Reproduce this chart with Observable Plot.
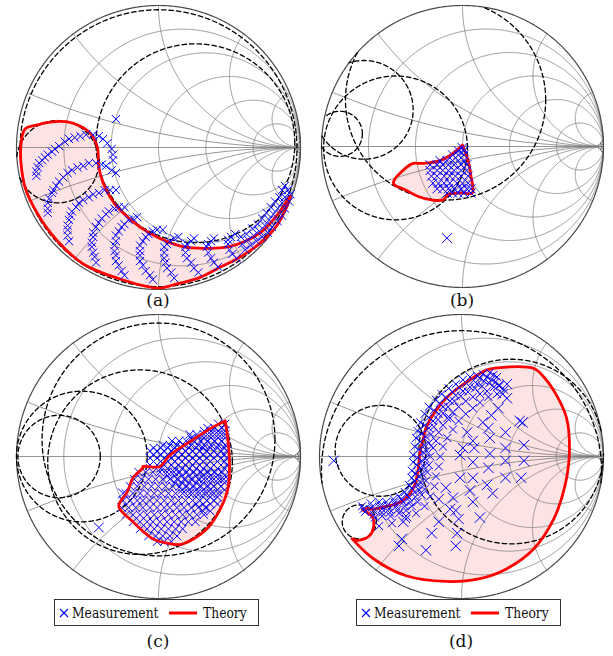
<!DOCTYPE html>
<html><head><meta charset="utf-8">
<script src="https://cdn.jsdelivr.net/npm/d3@7"></script>
<script src="https://cdn.jsdelivr.net/npm/@observablehq/plot@0.6"></script>
<style>
body{margin:0;background:#fff;}
#wrap{position:relative;width:613px;height:656px;color:#111;}
#wrap, .lab, .legend, .legend span{font-family:"DejaVu Serif",serif;}
.panel{position:absolute;}
.lab{position:absolute;font-size:17px;transform:translate(-50%,-50%);white-space:nowrap;}
.legend{position:absolute;border:1px solid #333;height:27px;width:205px;box-sizing:border-box;background:#fff;font-size:14px;}
.legend > *{position:absolute;top:50%;transform:translateY(-50%);white-space:nowrap;}
.legend > span{transform:translateY(-50%) scaleX(0.88);transform-origin:0 50%;}
</style></head><body>
<div id="wrap"></div>
<script>
// ---- Smith chart grid values ----
const gridResistance = [0.2, 0.5, 1, 2, 5, 50];
const gridReactance = [0.2, 0.5, 1, 2, 5, 50];

// ---- (a) ----
const aTheory = [[-0.97,0],[-0.94,0.13],[-0.85,0.16],[-0.75,0.18],[-0.64,0.18],[-0.55,0.15],[-0.48,0.10],[-0.43,0],[-0.42,-0.14],[-0.39,-0.25],[-0.34,-0.35],[-0.27,-0.44],[-0.13,-0.56],[0.01,-0.64],[0.18,-0.70],[0.35,-0.71],[0.49,-0.70],[0.61,-0.66],[0.73,-0.59],[0.84,-0.47],[0.93,-0.34],[0.84,-0.54],[0.72,-0.67],[0.56,-0.78],[0.42,-0.85],[0.28,-0.92],[0.13,-0.96],[0,-0.99],[-0.29,-0.92],[-0.53,-0.82],[-0.71,-0.66],[-0.85,-0.47],[-0.94,-0.28],[-0.97,-0.09]];
const aMeas = [
[-0.86,-0.20],[-0.86,-0.17],[-0.85,-0.14],[-0.84,-0.11],[-0.82,-0.09],[-0.80,-0.07],[-0.78,-0.05],[-0.75,-0.03],[-0.73,-0.01],[-0.70,0.01],[-0.66,0.04],[-0.63,0.06],[-0.59,0.07],[-0.55,0.08],[-0.51,0.09],[-0.46,0.09],[-0.42,0.08],[-0.39,0.06],[-0.36,0.03],[-0.33,-0.01],[-0.32,-0.05],[-0.32,-0.09],
[-0.78,-0.46],[-0.78,-0.43],[-0.78,-0.39],[-0.77,-0.36],[-0.75,-0.32],[-0.74,-0.30],[-0.72,-0.27],[-0.70,-0.24],[-0.67,-0.21],[-0.64,-0.18],[-0.61,-0.16],[-0.57,-0.14],[-0.53,-0.13],[-0.49,-0.11],[-0.44,-0.11],[-0.40,-0.12],[-0.37,-0.13],[-0.33,-0.16],[-0.30,-0.18],
[-0.63,-0.66],[-0.64,-0.62],[-0.64,-0.58],[-0.64,-0.55],[-0.63,-0.51],[-0.62,-0.48],[-0.61,-0.45],[-0.58,-0.42],[-0.56,-0.39],[-0.53,-0.37],[-0.49,-0.35],[-0.46,-0.33],[-0.42,-0.32],[-0.38,-0.30],[-0.34,-0.30],[-0.30,-0.30],
[-0.44,-0.81],[-0.45,-0.77],[-0.46,-0.74],[-0.47,-0.70],[-0.47,-0.67],[-0.46,-0.63],[-0.46,-0.60],[-0.44,-0.56],[-0.42,-0.53],[-0.40,-0.50],[-0.37,-0.47],[-0.35,-0.45],[-0.31,-0.43],[-0.28,-0.42],[-0.24,-0.42],
[-0.24,-0.90],[-0.26,-0.87],[-0.28,-0.83],[-0.30,-0.80],[-0.30,-0.76],[-0.31,-0.73],[-0.31,-0.69],[-0.30,-0.66],[-0.30,-0.62],[-0.28,-0.59],[-0.26,-0.56],[-0.24,-0.54],[-0.21,-0.51],[-0.18,-0.50],[-0.15,-0.49],
[-0.04,-0.93],[-0.06,-0.90],[-0.09,-0.87],[-0.11,-0.83],[-0.13,-0.80],[-0.13,-0.76],[-0.13,-0.73],[-0.13,-0.69],[-0.11,-0.66],[-0.09,-0.63],[-0.07,-0.61],[-0.04,-0.59],[-0.01,-0.58],[0.03,-0.58],
[0.11,-0.92],[0.09,-0.88],[0.06,-0.85],[0.05,-0.81],[0.04,-0.78],[0.04,-0.74],[0.04,-0.70],[0.06,-0.68],[0.08,-0.66],[0.11,-0.64],[0.14,-0.63],
[0.28,-0.88],[0.25,-0.85],[0.23,-0.81],[0.20,-0.78],[0.19,-0.74],[0.19,-0.70],[0.20,-0.68],[0.23,-0.66],[0.25,-0.64],
[0.42,-0.84],[0.39,-0.81],[0.37,-0.78],[0.35,-0.74],[0.34,-0.70],[0.35,-0.68],[0.37,-0.66],[0.39,-0.64],
[0.55,-0.78],[0.52,-0.75],[0.50,-0.72],[0.49,-0.68],[0.49,-0.65],[0.51,-0.63],[0.54,-0.61],
[0.61,-0.72],[0.65,-0.69],[0.69,-0.66],[0.73,-0.63],[0.77,-0.60],[0.80,-0.56],[0.84,-0.52],[0.87,-0.48],[0.89,-0.43],[0.92,-0.38],[0.93,-0.33],
[0.59,-0.68],[0.63,-0.65],[0.67,-0.62],[0.71,-0.59],[0.75,-0.55],[0.78,-0.51],[0.81,-0.47],[0.84,-0.43],[0.87,-0.39],[0.89,-0.35],[0.91,-0.30],
[0.58,-0.63],[0.62,-0.61],[0.66,-0.57],[0.70,-0.54],[0.73,-0.50],[0.76,-0.46],[0.79,-0.42],[0.82,-0.38],[0.85,-0.35],[0.87,-0.30],[0.89,-0.27],
[-0.30,0.20]];
const aDashed = [[0.26,0.03,0.70],[0.0,-0.005,0.975],[-0.71,-0.10,0.29]]; // [centre re, centre im, radius]

// ---- (b) ----
const bTheory = [[0.00,0.01],[-0.07,-0.05],[-0.16,-0.10],[-0.28,-0.12],[-0.35,-0.12],[-0.40,-0.15],[-0.49,-0.26],[-0.40,-0.31],[-0.30,-0.36],[-0.21,-0.38],[-0.14,-0.38],[-0.10,-0.34],[-0.01,-0.33],[0.07,-0.33],[0.06,-0.21],[0.04,-0.10]];
const bMeasY = [-0.03,-0.06,-0.10,-0.13,-0.17,-0.21,-0.26,-0.30,-0.33];
const bMeasX = [[-0.03,0.01],[-0.07,-0.03,0.01],[-0.16,-0.11,-0.07,-0.03,0.01],[-0.23,-0.18,-0.14,-0.10,-0.06,-0.01,0.03],[-0.23,-0.18,-0.14,-0.10,-0.06,-0.01,0.03],[-0.22,-0.18,-0.13,-0.09,-0.05,-0.01,0.04],[-0.21,-0.17,-0.13,-0.09,-0.04,0.00,0.04],[-0.18,-0.14,-0.10,-0.06,-0.01,0.03,0.06],[-0.11,-0.07,-0.03,0.01,0.06]];
const bExtra = [[0.00,-0.01],[-0.11,-0.65]];
const bDashed = [[-0.12,0.33,0.71],[-0.475,-0.01,0.51],[-0.87,0.09,0.16],[-0.70,0.26,0.35]];

// ---- (c) ----
const cTheory = [[0.47,0.25],[0.49,0.11],[0.50,-0.05],[0.49,-0.22],[0.44,-0.36],[0.35,-0.50],[0.23,-0.59],[0.15,-0.62],[0.06,-0.61],[-0.04,-0.58],[-0.18,-0.46],[-0.28,-0.35],[-0.22,-0.25],[-0.18,-0.15],[-0.11,-0.08],[-0.11,-0.07],[0.01,-0.07],[0.08,0.01],[0.23,0.11],[0.37,0.20]];
const cMeasY = [0.23,0.18,0.13,0.08,0.04,-0.01,-0.06,-0.11,-0.16,-0.21,-0.26,-0.31,-0.36,-0.41,-0.46,-0.51,-0.56,-0.60];
const cMeasX = [
[0.42,0.47],
[0.32,0.37,0.42,0.47],
[0.23,0.28,0.32,0.37,0.42,0.47],
[0.03,0.08,0.13,0.18,0.23,0.28,0.32,0.37,0.42,0.47],
[-0.06,-0.01,0.04,0.09,0.14,0.19,0.24,0.29,0.34,0.39,0.44,0.48],
[-0.06,-0.01,0.04,0.09,0.14,0.19,0.24,0.29,0.34,0.39,0.44,0.48],
[-0.06,-0.01,0.04,0.09,0.14,0.19,0.24,0.29,0.34,0.39,0.44,0.48],
[-0.14,-0.09,-0.04,0.01,0.06,0.11,0.15,0.20,0.25,0.30,0.35,0.40,0.45],
[-0.17,-0.12,-0.07,-0.02,0.03,0.08,0.13,0.18,0.23,0.28,0.32,0.37,0.42,0.46],
[-0.20,-0.15,-0.10,-0.05,0.00,0.05,0.10,0.15,0.20,0.25,0.30,0.35,0.39,0.44],
[-0.23,-0.18,-0.13,-0.08,-0.03,0.02,0.07,0.12,0.17,0.22,0.27,0.32,0.37,0.42],
[-0.25,-0.20,-0.15,-0.11,-0.06,-0.01,0.04,0.09,0.14,0.19,0.24,0.29,0.34,0.39],
[-0.26,-0.21,-0.16,-0.11,-0.06,-0.01,0.04,0.08,0.13,0.18,0.23,0.28,0.33],
[-0.23,-0.18,-0.13,-0.08,-0.03,0.02,0.07,0.12,0.17,0.22,0.27,0.32],
[-0.18,-0.13,-0.08,-0.04,0.01,0.06,0.11,0.16,0.21,0.26],
[-0.13,-0.08,-0.03,0.02,0.07,0.12,0.17],
[-0.07,-0.02,0.03,0.08,0.13],
[-0.01,0.04,0.09]];
const cDenseY = [0.20,0.155,0.11,0.06,0.01,-0.035,-0.085,-0.135,-0.185,-0.235,-0.285,-0.335,-0.385];
const cDenseX = [
[0.345,0.395,0.445],
[0.22,0.27,0.32,0.37,0.42,0.47],
[0.095,0.145,0.195,0.245,0.295,0.345,0.395,0.445],
[-0.035,0.015,0.065,0.115,0.165,0.215,0.265,0.315,0.365,0.415,0.465],
[-0.035,0.015,0.065,0.115,0.165,0.215,0.265,0.315,0.365,0.415,0.465],
[-0.035,0.015,0.065,0.115,0.165,0.215,0.265,0.315,0.365,0.415,0.465],
[0.015,0.065,0.115,0.165,0.215,0.265,0.315,0.365,0.415,0.465],
[0.065,0.115,0.165,0.215,0.265,0.315,0.365,0.415,0.465],
[0.115,0.165,0.215,0.265,0.315,0.365,0.415,0.465],
[0.165,0.215,0.265,0.315,0.365,0.415,0.465],
[0.215,0.265,0.315,0.365,0.415],
[0.265,0.315,0.365,0.415],
[0.315,0.365]];
const cExtra = [[-0.42,-0.50],[-0.25,-0.26]];
const cDashed = [[-0.13,-0.04,0.65],[-0.70,0.0,0.29],[-0.54,0.0,0.46],[0.0,0.12,0.82]];

// ---- (d) ----
const dTheory = [[-0.77,-0.58],[-0.62,-0.72],[-0.39,-0.84],[-0.11,-0.88],[0.13,-0.86],[0.32,-0.79],[0.51,-0.65],[0.65,-0.44],[0.73,-0.20],[0.76,0.03],[0.74,0.27],[0.67,0.43],[0.58,0.56],[0.51,0.62],[0.32,0.63],[0.18,0.61],[0.06,0.54],[-0.04,0.47],[-0.11,0.41],[-0.16,0.35],[-0.21,0.28],[-0.25,0.20],[-0.27,0.12],[-0.29,0.04],[-0.30,-0.04],[-0.31,-0.12],[-0.33,-0.20],[-0.37,-0.27],[-0.43,-0.32],[-0.52,-0.35],[-0.62,-0.37],[-0.70,-0.37],[-0.63,-0.42],[-0.62,-0.50],[-0.65,-0.56],[-0.73,-0.59]];
const dMeas = [
[-0.70,-0.35],[-0.64,-0.33],[-0.58,-0.32],[-0.53,-0.32],[-0.48,-0.30],[-0.44,-0.28],[-0.40,-0.25],[-0.37,-0.20],[-0.35,-0.15],[-0.35,-0.10],[-0.34,-0.04],[-0.34,0.01],[-0.33,0.07],[-0.32,0.13],[-0.31,0.18],[-0.29,0.24],[-0.26,0.30],[-0.23,0.35],[-0.18,0.40],[-0.14,0.44],[-0.09,0.48],[-0.04,0.51],[0.01,0.54],[0.06,0.56],[0.11,0.57],[0.15,0.58],[0.20,0.59],
[-0.69,-0.37],[-0.63,-0.355],[-0.57,-0.345],[-0.52,-0.345],[-0.47,-0.325],[-0.425,-0.30],[-0.385,-0.27],[-0.35,-0.225],[-0.33,-0.175],[-0.325,-0.12],[-0.315,-0.06],[-0.31,-0.01],[-0.30,0.05],[-0.29,0.105],[-0.28,0.16],[-0.26,0.22],[-0.23,0.275],[-0.195,0.325],[-0.155,0.375],[-0.11,0.415],[-0.065,0.455],[-0.015,0.485],[0.035,0.515],[0.085,0.535],[0.13,0.55],[0.18,0.56],[0.225,0.575],
[-0.68,-0.39],[-0.62,-0.38],[-0.56,-0.37],[-0.51,-0.37],[-0.46,-0.35],[-0.41,-0.32],[-0.37,-0.29],[-0.33,-0.25],[-0.31,-0.20],[-0.30,-0.14],[-0.29,-0.08],[-0.28,-0.03],[-0.27,0.03],[-0.26,0.08],[-0.25,0.14],[-0.23,0.20],[-0.20,0.25],[-0.16,0.30],[-0.13,0.35],[-0.08,0.39],[-0.04,0.43],[0.01,0.46],[0.06,0.49],[0.11,0.51],[0.16,0.53],[0.21,0.54],[0.25,0.56],
[-0.62,-0.41],[-0.56,-0.395],[-0.505,-0.395],[-0.45,-0.375],[-0.40,-0.35],[-0.36,-0.32],[-0.325,-0.285],[-0.30,-0.235],[-0.285,-0.185],[-0.275,-0.125],[-0.265,-0.07],[-0.255,-0.015],[-0.245,0.04],[-0.23,0.095],[-0.215,0.155],[-0.195,0.21],[-0.165,0.26],[-0.13,0.305],[-0.095,0.35],[-0.05,0.39],[-0.005,0.425],[0.045,0.455],[0.095,0.48],[0.145,0.495],[0.195,0.515],[0.24,0.525],
[-0.61,-0.43],[-0.56,-0.42],[-0.50,-0.42],[-0.44,-0.40],[-0.39,-0.38],[-0.35,-0.35],[-0.31,-0.32],[-0.28,-0.27],[-0.26,-0.23],[-0.25,-0.17],[-0.24,-0.11],[-0.23,-0.06],[-0.22,0.00],[-0.20,0.06],[-0.18,0.11],[-0.16,0.17],[-0.13,0.22],[-0.10,0.27],[-0.06,0.31],[-0.02,0.35],[0.03,0.39],[0.08,0.42],[0.13,0.44],[0.18,0.46],[0.23,0.49],[0.27,0.50],
[-0.58,-0.49],[-0.49,-0.47],[-0.39,-0.44],[-0.32,-0.40],[-0.26,-0.35],[-0.22,-0.28],[-0.19,-0.21],[-0.18,-0.14],[-0.16,-0.07],[-0.15,0.00],[-0.13,0.07],[-0.10,0.13],[-0.06,0.19],[-0.02,0.25],[0.03,0.30],[0.08,0.34],[0.13,0.38],[0.19,0.42],[0.25,0.44],[0.30,0.47]];
const dSparse = [[-0.90,-0.03],[-0.01,0.01],[0.08,0.11],[0.20,0.13],[0.31,0.17],[0.43,0.24],[0.44,0.08],[0.44,-0.03],[0.42,-0.15],[0.31,-0.15],[0.31,-0.03],[0.31,0.06],[0.20,0.02],[0.08,-0.04],[0.08,-0.15],[0.18,-0.20],[0.22,-0.26],[0.08,-0.32],[0.13,-0.43],[-0.04,-0.38],[-0.03,-0.54],[-0.04,-0.63],[-0.11,-0.22],[0.29,0.44],[0.32,0.41],[0.26,0.50],[0.15,0.24],[0.04,0.17],[-0.08,0.27],[0.41,0.25],[0.19,-0.08],[0.06,-0.24],[-0.02,-0.44],[-0.08,-0.37],[-0.16,-0.46],[-0.21,-0.54],[-0.25,-0.66],[-0.42,-0.58],[-0.44,-0.63],[-0.41,-0.46],[-0.39,-0.42],[-0.16,-0.30],[-0.06,-0.29],[-0.01,-0.15],[0.01,0.06],[0.09,0.06],[0.19,0.20],[0.21,0.29],[0.26,0.34],[0.32,0.51]];
const dDashed = [[0.0,-0.10,0.986],[0.35,0.035,0.65],[-0.57,0.04,0.32],[-0.72,-0.46,0.12]];

// ---------- drawing ----------
function circlePts(cx, cy, r, id, n = 1440) {
  const out = []; let seg = 0, inside = false;
  for (let i = 0; i <= n; i++) {
    const t = 2 * Math.PI * i / n, x = cx + r * Math.cos(t), y = cy + r * Math.sin(t);
    if (x * x + y * y <= 1.0000001) { if (!inside) { seg++; inside = true; } out.push({x, y, id: id + "-" + seg}); }
    else inside = false;
  }
  return out;
}
const gridPts = [];
gridResistance.forEach((r, i) => gridPts.push(...circlePts(r / (1 + r), 0, 1 / (1 + r), "r" + i)));
gridReactance.forEach((x, i) => {
  gridPts.push(...circlePts(1, 1 / x, 1 / x, "xp" + i));
  gridPts.push(...circlePts(1, -1 / x, 1 / x, "xn" + i));
});
gridPts.push({x: -1, y: 0, id: "h"}, {x: 1, y: 0, id: "h"});
const outerPts = circlePts(0, 0, 1, "o", 720);

const toObj = a => a.map(([x, y]) => ({x, y}));
const closed = a => toObj([...a, a[0]]);

function smith({cx, cy, R, w, h, theory, meas, big, dashed, msize, bsize, redTop}) {
  const dashPts = dashed.flatMap(([x0, y0, r], i) => circlePts(x0, y0, r, "d" + i));
  const th = closed(theory);
  const marks = [
    Plot.line(th, {x: "x", y: "y", fill: "#fde3e3", stroke: "none", curve: "catmull-rom"}),
    Plot.line(gridPts, {x: "x", y: "y", z: "id", stroke: "#7a7a7a", strokeWidth: 0.8}),
    Plot.line(outerPts, {x: "x", y: "y", z: "id", stroke: "#4a4a4a", strokeWidth: 1.2}),
    Plot.line(dashPts, {x: "x", y: "y", z: "id", stroke: "#000", strokeWidth: 1.3, strokeDasharray: "4.5,3"})
  ];
  const red = Plot.line(th, {x: "x", y: "y", stroke: "#ff0000", strokeWidth: 2.8, curve: "catmull-rom", strokeLinejoin: "round"});
  const dots = [
    Plot.dot(toObj(meas), {x: "x", y: "y", symbol: "times", r: msize, stroke: "#0000ff", strokeWidth: 1}),
    Plot.dot(toObj(big), {x: "x", y: "y", symbol: "times", r: bsize, stroke: "#0000ff", strokeWidth: 1})
  ];
  if (redTop) marks.push(...dots, red); else marks.push(red, ...dots);
  return Plot.plot({
    width: w, height: h, margin: 0,
    x: {domain: [-1, 1], range: [cx - R, cx + R], axis: null},
    y: {domain: [-1, 1], range: [cy + R, cy - R], axis: null},
    marks
  });
}

const rows = (ys, xs) => ys.flatMap((y, i) => xs[i].map(x => [x, y]));

const wrap = document.getElementById("wrap");
function place(el, left, top) { const d = document.createElement("div"); d.className = "panel"; d.style.left = left + "px"; d.style.top = top + "px"; d.appendChild(el); wrap.appendChild(d); }

place(smith({cx: 158, cy: 147, R: 142, w: 306, h: 300, theory: aTheory, meas: aMeas, big: [], dashed: aDashed, msize: 3.8, bsize: 4.3, redTop: false}), 0, 0);
place(smith({cx: 156, cy: 146, R: 141, w: 307, h: 300, theory: bTheory, meas: rows(bMeasY, bMeasX), big: bExtra, dashed: bDashed, msize: 4.2, bsize: 4.6, redTop: false}), 306, 0);
place(smith({cx: 158, cy: 151, R: 142, w: 306, h: 296, theory: cTheory, meas: [...rows(cMeasY, cMeasX), ...rows(cDenseY, cDenseX)], big: cExtra, dashed: cDashed, msize: 3.9, bsize: 4.5, redTop: true}), 0, 305);
place(smith({cx: 155, cy: 151, R: 142, w: 307, h: 296, theory: dTheory, meas: dMeas, big: dSparse, dashed: dDashed, msize: 3.7, bsize: 4.8, redTop: false}), 306, 305);

function label(t, x, y) { const d = document.createElement("div"); d.className = "lab"; d.textContent = t; d.style.left = x + "px"; d.style.top = y + "px"; wrap.appendChild(d); }
label("(a)", 158, 300); label("(b)", 462, 300); label("(c)", 158, 641); label("(d)", 461, 641);

function legend(left, top) {
  const d = document.createElement("div"); d.className = "legend";
  d.style.left = left + "px"; d.style.top = top + "px";
  d.innerHTML = '<svg width="12" height="12" style="left:3px"><path d="M2,2L10,10M2,10L10,2" stroke="#0000ff" stroke-width="1.1"/></svg>' +
    '<span style="left:17px">Measurement</span>' +
    '<svg width="30" height="10" style="left:113px"><line x1="1" y1="5" x2="29" y2="5" stroke="#ff0000" stroke-width="3"/></svg>' +
    '<span style="left:148px">Theory</span>';
  wrap.appendChild(d);
}
legend(54, 599); legend(356, 599);
</script>
</body></html>
